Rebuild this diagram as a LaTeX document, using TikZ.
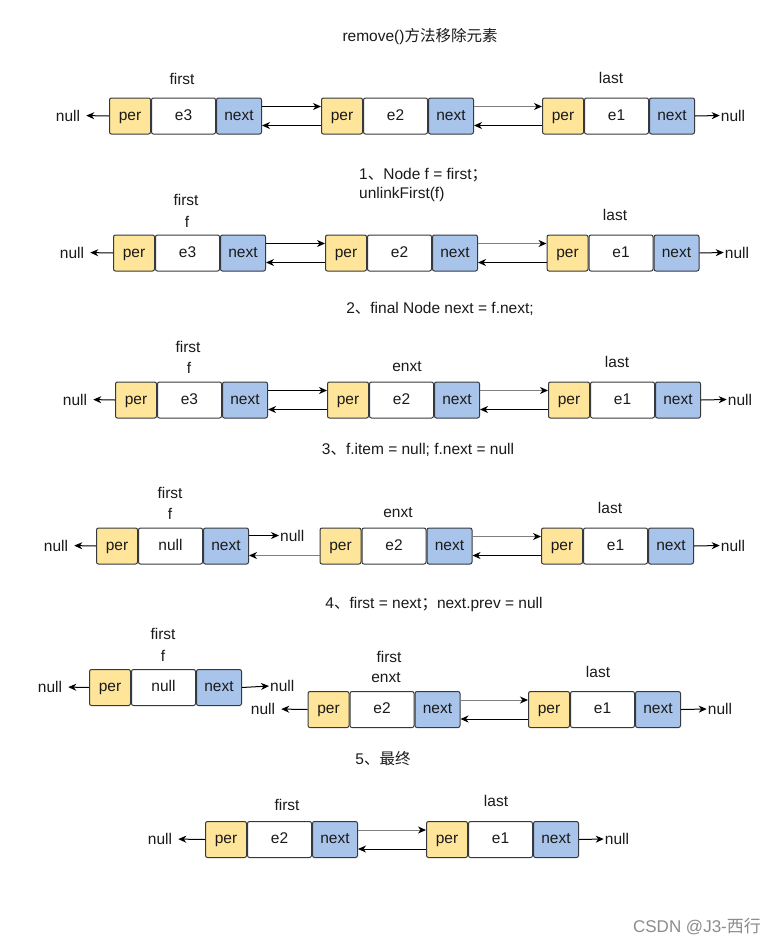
\documentclass[tikz,border=0pt]{standalone}
\usepackage{fontspec}
\setmainfont{Liberation Sans}
\newfontfamily\cjk{Noto Sans CJK SC}
\usetikzlibrary{arrows.meta}
\definecolor{perfill}{HTML}{FFE599}
\definecolor{nextfill}{HTML}{A9C4EB}
\definecolor{boxline}{HTML}{36393D}
\definecolor{txt}{HTML}{1A1A1A}
\definecolor{grayline}{HTML}{7F7F7F}
\newcommand{\zh}[1]{{\cjk #1}}
\newcommand{\llnode}[4]{%
  \node[cellbox, fill=perfill, minimum width=41pt, anchor=north west] (#1p) at (#2,#3) {per};
  \node[cellbox, fill=white, minimum width=64pt, anchor=north west] (#1e) at (#1p.north east) {#4};
  \node[cellbox, fill=nextfill, minimum width=45pt, anchor=north west] (#1n) at (#1e.north east) {next};
}
\newcommand{\linkpair}[3]{% #1 left name, #2 right name, #3 top colour
  \draw[arr, draw=#3] ([yshift=-9pt]#1n.north east) -- ([yshift=-9pt]#2p.north west);
  \draw[arr] ([yshift=9pt]#2p.south west) -- ([yshift=9pt]#1n.south east);
}
\tikzset{
  cellbox/.style={draw=boxline, line width=1pt, rounded corners=2pt, minimum height=36pt, inner sep=0pt, text=txt, text height=11pt, text depth=3pt},
  arr/.style={-{Stealth[length=8pt,width=7pt,inset=2.5pt,color=black]}, line width=1pt, draw=black},
  larr/.style={arr, shorten >=5pt},
  lbl/.style={inner sep=1pt, text=txt},
}
\begin{document}
\begin{tikzpicture}[x=1pt,y=-1pt, font=\fontsize{15.5pt}{18pt}\selectfont]
\useasboundingbox[fill=white] (0,0) rectangle (781,945);

% ---------- Row 1 ----------
\node[lbl] (t0) at (420,37) {remove()\zh{方法移除元素}};
\node[lbl] (r1first) at (182,79) {first};
\node[lbl] (r1last) at (611,78) {last};
\llnode{r1A}{109}{97.5}{e3}
\llnode{r1B}{321}{97.5}{e2}
\llnode{r1C}{542}{97.5}{e1}
\linkpair{r1A}{r1B}{black}
\linkpair{r1B}{r1C}{grayline}
\node[lbl] (r1nl) at (68,115.5) {null};
\node[lbl] (r1nr) at (733,115.5) {null};
\draw[larr] (r1Ap.west) -- (r1nl.east);
\draw[arr] (r1Cn.east) -- (r1nr.west);

% ---------- Row 2 ----------
\node[lbl, anchor=west] (t1a) at (358,175) {1\zh{、}Node f = first\zh{；}};
\node[lbl, anchor=west] (t1b) at (358,194) {unlinkFirst(f)};
\node[lbl] (r2first) at (186,200) {first};
\node[lbl] (r2f) at (187,222) {f};
\node[lbl] (r2last) at (615,215) {last};
\llnode{r2A}{113}{234.5}{e3}
\llnode{r2B}{325}{234.5}{e2}
\llnode{r2C}{546.5}{234.5}{e1}
\linkpair{r2A}{r2B}{black}
\linkpair{r2B}{r2C}{grayline}
\node[lbl] (r2nl) at (72,252.5) {null};
\node[lbl] (r2nr) at (737,252.5) {null};
\draw[larr] (r2Ap.west) -- (r2nl.east);
\draw[arr] (r2Cn.east) -- (r2nr.west);

% ---------- Row 3 ----------
\node[lbl] (t2) at (440,309) {2\zh{、}final Node next = f.next;};
\node[lbl] (r3first) at (188,347) {first};
\node[lbl] (r3f) at (189,368) {f};
\node[lbl] (r3enxt) at (407,367) {enxt};
\node[lbl] (r3last) at (617,362) {last};
\llnode{r3A}{115}{381.5}{e3}
\llnode{r3B}{327}{381.5}{e2}
\llnode{r3C}{548}{381.5}{e1}
\linkpair{r3A}{r3B}{black}
\linkpair{r3B}{r3C}{grayline}
\node[lbl] (r3nl) at (75,399.5) {null};
\node[lbl] (r3nr) at (740,399.5) {null};
\draw[larr] (r3Ap.west) -- (r3nl.east);
\draw[arr] (r3Cn.east) -- (r3nr.west);

% ---------- Row 4 ----------
\node[lbl] (t3) at (418,450) {3\zh{、}f.item = null; f.next = null};
\node[lbl] (r4first) at (170,493) {first};
\node[lbl] (r4f) at (170,514) {f};
\node[lbl] (r4enxt) at (398,513) {enxt};
\node[lbl] (r4last) at (610,508) {last};
\llnode{r4A}{96}{527.5}{null}
\llnode{r4B}{319.5}{527.5}{e2}
\llnode{r4C}{541}{527.5}{e1}
\node[lbl, anchor=west] (r4nm) at (279,535.5) {null};
\draw[arr] ([yshift=-8pt]r4An.north east) -- (r4nm.west);
\draw[arr, draw=grayline] ([yshift=9pt]r4Bp.south west) -- ([yshift=9pt]r4An.south east);
\linkpair{r4B}{r4C}{grayline}
\node[lbl] (r4nl) at (56,545.5) {null};
\node[lbl] (r4nr) at (733,545.5) {null};
\draw[larr] (r4Ap.west) -- (r4nl.east);
\draw[arr] (r4Cn.east) -- (r4nr.west);

% ---------- Row 5 ----------
\node[lbl] (t4) at (434,604) {4\zh{、}first = next\zh{；}next.prev = null};
\node[lbl] (r5first) at (163,634) {first};
\node[lbl] (r5f) at (163,656) {f};
\llnode{r5A}{89}{669}{null}
\node[lbl] (r5nl) at (50,687) {null};
\node[lbl, anchor=west] (r5nm) at (269,686) {null};
\draw[larr] (r5Ap.west) -- (r5nl.east);
\draw[arr] (r5An.east) -- (r5nm.west);
\node[lbl] (r5first2) at (389,657) {first};
\node[lbl] (r5enxt) at (386,678) {enxt};
\node[lbl] (r5last) at (598,672) {last};
\llnode{r5B}{307.5}{691}{e2}
\llnode{r5C}{528}{691}{e1}
\linkpair{r5B}{r5C}{grayline}
\node[lbl] (r5nl2) at (263,709) {null};
\node[lbl] (r5nr) at (720,709) {null};
\draw[larr] (r5Bp.west) -- (r5nl2.east);
\draw[arr] (r5Cn.east) -- (r5nr.west);

% ---------- Row 6 ----------
\node[lbl] (t5) at (383,759) {5\zh{、最终}};
\node[lbl] (r6first) at (287,805) {first};
\node[lbl] (r6last) at (496,801) {last};
\llnode{r6A}{205}{821}{e2}
\llnode{r6B}{426}{821}{e1}
\linkpair{r6A}{r6B}{grayline}
\node[lbl] (r6nl) at (160,839) {null};
\node[lbl] (r6nr) at (617,839) {null};
\draw[larr] (r6Ap.west) -- (r6nl.east);
\draw[arr] (r6Bn.east) -- (r6nr.west);

% watermark
\node[text=black!45, font=\fontsize{17pt}{20pt}\selectfont] (wm) at (697,927) {CSDN @J3-\zh{西行}};
\end{tikzpicture}
\end{document}
